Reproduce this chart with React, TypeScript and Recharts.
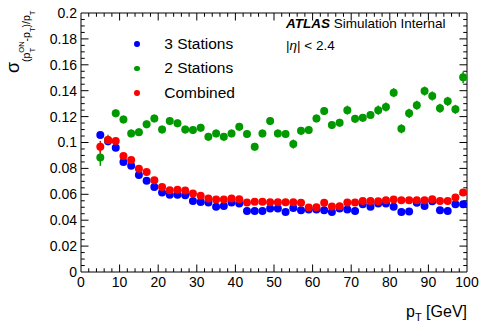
import React from 'react'
import { ScatterChart, Scatter, XAxis, YAxis, ErrorBar, ReferenceLine, ReferenceArea, Legend } from 'recharts'

const FONT = '"Liberation Sans", Arial, Helvetica, sans-serif'

// bin centres in GeV
const ptBins = [
  5, 7, 9, 11, 13, 15, 17, 19, 21, 23, 25, 27, 29, 31, 33, 35, 37, 39, 41, 43, 45, 47, 49, 51,
  53, 55, 57, 59, 61, 63, 65, 67, 69, 71, 73, 75, 77, 79, 81, 83, 85, 87, 89, 91, 93, 95, 97, 99,
]

const threeStations = [
  0.1057, 0.101, 0.096, 0.085, 0.082, 0.075, 0.0704, 0.0657, 0.0614, 0.0597, 0.0597, 0.0593,
  0.0549, 0.0541, 0.0537, 0.0503, 0.051, 0.0537, 0.0529, 0.0472, 0.0472, 0.0472, 0.049, 0.049,
  0.0464, 0.0495, 0.0477, 0.0483, 0.0483, 0.0477, 0.0464, 0.049, 0.0483, 0.0472, 0.0524, 0.0503,
  0.0529, 0.0529, 0.0503, 0.0464, 0.0467, 0.0534, 0.051, 0.0547, 0.0477, 0.0472, 0.0524, 0.0524,
]
const threeStationsErr = [
  0.002, 0.0015, 0.001, 0.001, 0.001, 0.001, 0.001, 0.001, 0.001, 0.001, 0.001, 0.001,
  0.001, 0.001, 0.001, 0.001, 0.001, 0.001, 0.001, 0.001, 0.001, 0.001, 0.001, 0.001,
  0.001, 0.001, 0.001, 0.001, 0.001, 0.001, 0.001, 0.001, 0.001, 0.001, 0.001, 0.001,
  0.001, 0.001, 0.001, 0.001, 0.001, 0.001, 0.001, 0.001, 0.001, 0.001, 0.001, 0.001,
]

const twoStations = [
  0.0885, 0.1019, 0.1225, 0.1178, 0.107, 0.108, 0.114, 0.1186, 0.11, 0.1166, 0.1148, 0.11,
  0.1096, 0.1114, 0.1044, 0.107, 0.1044, 0.107, 0.1121, 0.1065, 0.0967, 0.107, 0.1166, 0.107,
  0.1065, 0.0988, 0.109, 0.1096, 0.1186, 0.1243, 0.1135, 0.1153, 0.125, 0.1183, 0.1191, 0.1212,
  0.125, 0.1274, 0.1385, 0.1106, 0.1225, 0.1287, 0.1397, 0.1359, 0.1264, 0.1318, 0.1256, 0.1503,
]
const twoStationsErr = [
  0.0065, 0.004, 0.003, 0.003, 0.003, 0.003, 0.003, 0.003, 0.003, 0.003, 0.003, 0.003,
  0.003, 0.003, 0.003, 0.003, 0.003, 0.003, 0.003, 0.003, 0.003, 0.003, 0.003, 0.003,
  0.003, 0.0035, 0.003, 0.003, 0.003, 0.003, 0.003, 0.003, 0.0035, 0.003, 0.003, 0.003,
  0.0035, 0.0035, 0.0035, 0.0035, 0.0035, 0.0035, 0.0035, 0.0035, 0.0035, 0.0035, 0.0035, 0.0045,
]

const combined = [
  0.0967, 0.1019, 0.1012, 0.0895, 0.0864, 0.0798, 0.0773, 0.0709, 0.0657, 0.0632, 0.0635, 0.063,
  0.0606, 0.0588, 0.0568, 0.056, 0.056, 0.0568, 0.0562, 0.0537, 0.0542, 0.0542, 0.0539, 0.0539,
  0.0539, 0.0539, 0.0534, 0.0498, 0.05, 0.0534, 0.0505, 0.0508, 0.0537, 0.0537, 0.0549, 0.0549,
  0.0547, 0.0555, 0.056, 0.0555, 0.0555, 0.0555, 0.0555, 0.0562, 0.0549, 0.0549, 0.0575, 0.0614,
]
const combinedErr = [
  0.0045, 0.002, 0.0015, 0.001, 0.001, 0.001, 0.001, 0.001, 0.001, 0.001, 0.001, 0.001,
  0.001, 0.001, 0.001, 0.001, 0.001, 0.001, 0.001, 0.001, 0.001, 0.001, 0.001, 0.001,
  0.001, 0.001, 0.001, 0.001, 0.001, 0.001, 0.001, 0.001, 0.001, 0.001, 0.001, 0.001,
  0.001, 0.001, 0.001, 0.001, 0.001, 0.001, 0.001, 0.001, 0.001, 0.001, 0.001, 0.0015,
]

const seriesNames = ['3 Stations', '2 Stations', 'Combined']
const seriesColors = ['#0000ff', '#009900', '#ff0000']

const xTicks = [0, 10, 20, 30, 40, 50, 60, 70, 80, 90, 100]
const yTicks = [0, 0.02, 0.04, 0.06, 0.08, 0.1, 0.12, 0.14, 0.16, 0.18, 0.2]

// ROOT style inward ticks, lengths in data units
const X_MAX = 100
const Y_MAX = 0.2
const TICK_MAJOR_Y = 0.0058
const TICK_MINOR_Y = 0.0029
const TICK_MAJOR_X = 1.95
const TICK_MINOR_X = 0.97

const xMinor: number[] = []
for (let i = 1; i < 50; i++) if ((2 * i) % 10 !== 0) xMinor.push(2 * i)
const yMinor: number[] = []
for (let i = 1; i < 40; i++) if (i % 4 !== 0) yMinor.push(+(i * 0.005).toFixed(3))

const toPoints = (vals: number[], errs: number[]) =>
  vals.map((y, i) => ({ x: ptBins[i], y, err: errs[i] }))

const dot = (color: string) => (props: any) =>
  <circle cx={props.cx} cy={props.cy} r={4} fill={color} />

const renderLegend = (props: any) => {
  const items = [...(props.payload || [])].sort(
    (a: any, b: any) => seriesNames.indexOf(a.value) - seriesNames.indexOf(b.value)
  )
  return (
    <div style={{ fontFamily: FONT, fontSize: 15.5, color: '#000' }}>
      {items.map((entry: any) => (
        <div key={entry.value} style={{ position: 'relative', height: 24.3, lineHeight: '24.3px', paddingLeft: 34.3, whiteSpace: 'nowrap' }}>
          <span style={{ position: 'absolute', left: 3.9, top: 9.3, width: 5.8, height: 5.8, borderRadius: '50%', background: seriesColors[seriesNames.indexOf(entry.value)] }} />
          {entry.value}
        </div>
      ))}
    </div>
  )
}

const tickLine = (key: string, a: { x: number; y: number }, b: { x: number; y: number }) => (
  <ReferenceLine key={key} segment={[a, b]} stroke="#000" strokeWidth={1} ifOverflow="visible" />
)

export default function App() {
  const ticks: React.ReactNode[] = []
  xTicks.slice(1, -1).forEach(v => {
    ticks.push(tickLine(`xb${v}`, { x: v, y: 0 }, { x: v, y: TICK_MAJOR_Y }))
    ticks.push(tickLine(`xt${v}`, { x: v, y: Y_MAX }, { x: v, y: Y_MAX - TICK_MAJOR_Y }))
  })
  xMinor.forEach(v => {
    ticks.push(tickLine(`xbm${v}`, { x: v, y: 0 }, { x: v, y: TICK_MINOR_Y }))
    ticks.push(tickLine(`xtm${v}`, { x: v, y: Y_MAX }, { x: v, y: Y_MAX - TICK_MINOR_Y }))
  })
  yTicks.slice(1, -1).forEach(v => {
    ticks.push(tickLine(`yl${v}`, { x: 0, y: v }, { x: TICK_MAJOR_X, y: v }))
    ticks.push(tickLine(`yr${v}`, { x: X_MAX, y: v }, { x: X_MAX - TICK_MAJOR_X, y: v }))
  })
  yMinor.forEach(v => {
    ticks.push(tickLine(`ylm${v}`, { x: 0, y: v }, { x: TICK_MINOR_X, y: v }))
    ticks.push(tickLine(`yrm${v}`, { x: X_MAX, y: v }, { x: X_MAX - TICK_MINOR_X, y: v }))
  })

  return (
    <div style={{ position: 'absolute', left: 0, top: 0, width: 479, height: 324, background: '#fff' }}>
      <ScatterChart width={479} height={324} margin={{ top: 13, right: 12, bottom: 0, left: 0 }}>
        <XAxis
          type="number"
          dataKey="x"
          domain={[0, X_MAX]}
          ticks={xTicks}
          interval={0}
          height={52}
          tickLine={false}
          axisLine={false}
          tickSize={0}
          tickMargin={5}
          tick={{ fill: '#000', fontSize: 14, fontFamily: FONT }}
          allowDataOverflow
        />
        <YAxis
          type="number"
          dataKey="y"
          domain={[0, Y_MAX]}
          ticks={yTicks}
          interval={0}
          width={81}
          tickLine={false}
          axisLine={false}
          tickSize={0}
          tickMargin={4}
          tick={{ fill: '#000', fontSize: 14, fontFamily: FONT }}
          allowDataOverflow
        />
        <ReferenceArea x1={0} x2={X_MAX} y1={0} y2={Y_MAX} fill="none" fillOpacity={0} stroke="#000" strokeWidth={1} ifOverflow="visible" />
        {ticks}
        <Legend
          content={renderLegend}
          layout="vertical"
          align="center"
          verticalAlign="middle"
          wrapperStyle={{ left: 130, top: 32, width: 150 }}
        />
        <Scatter name={seriesNames[0]} data={toPoints(threeStations, threeStationsErr)} fill={seriesColors[0]} shape={dot(seriesColors[0])} isAnimationActive={false}>
          <ErrorBar dataKey="err" direction="y" width={0} stroke={seriesColors[0]} strokeWidth={1.5} />
        </Scatter>
        <Scatter name={seriesNames[1]} data={toPoints(twoStations, twoStationsErr)} fill={seriesColors[1]} shape={dot(seriesColors[1])} isAnimationActive={false}>
          <ErrorBar dataKey="err" direction="y" width={0} stroke={seriesColors[1]} strokeWidth={1.5} />
        </Scatter>
        <Scatter name={seriesNames[2]} data={toPoints(combined, combinedErr)} fill={seriesColors[2]} shape={dot(seriesColors[2])} isAnimationActive={false}>
          <ErrorBar dataKey="err" direction="y" width={0} stroke={seriesColors[2]} strokeWidth={1.5} />
        </Scatter>
      </ScatterChart>
      <svg width={479} height={324} style={{ position: 'absolute', left: 0, top: 0, pointerEvents: 'none' }} fontFamily={FONT} fill="#000">
        <text x={286} y={27.5} fontSize={13.5}>
          <tspan fontWeight="bold" fontStyle="italic">ATLAS</tspan> Simulation Internal
        </text>
        <text x={286} y={49.5} fontSize={13.5}>
          |<tspan fontStyle="italic">η</tspan>| &lt; 2.4
        </text>
        <text x={467} y={317} fontSize={16} textAnchor="end">
          p<tspan fontSize={11} dy={4}>T</tspan><tspan dy={-4}> [GeV]</tspan>
        </text>
        <text transform="translate(19,73) rotate(-90)" fontSize={18}>
          σ<tspan fontSize={10.5} dy={11}>(p</tspan><tspan fontSize={7.5} dy={5}>T</tspan><tspan fontSize={7.5} dx={-4.6} dy={-11}>ON</tspan><tspan fontSize={10.5} dy={6}>-p</tspan><tspan fontSize={7.5} dy={5}>T</tspan><tspan fontSize={10.5} dy={-5}>)/p</tspan><tspan fontSize={7.5} dy={5}>T</tspan>
        </text>
      </svg>
    </div>
  )
}
